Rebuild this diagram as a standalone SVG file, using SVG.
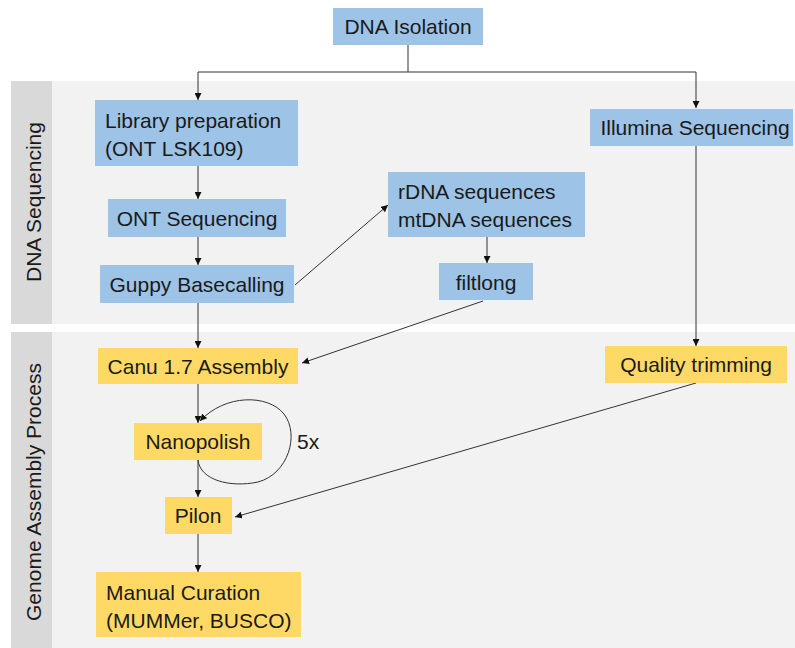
<svg xmlns="http://www.w3.org/2000/svg" width="795" height="648" viewBox="0 0 795 648">
<defs>
<marker id="ah" viewBox="0 0 10 10" refX="10" refY="5" markerWidth="7" markerHeight="7" markerUnits="userSpaceOnUse" orient="auto">
<path d="M0,0 L10,5 L0,10 z" fill="#111"/>
</marker>
<style>
.band{fill:#f2f2f2}
.lab{fill:#d9d9d9}
.blue{fill:#9dc3e6}
.yel{fill:#ffd966}
text{font-family:"Liberation Sans",Arial,sans-serif;font-size:21px;fill:#1a1a1a}
.c{text-anchor:middle}
.con{fill:none;stroke:#333;stroke-width:1}
.arr{marker-end:url(#ah)}
</style>
</defs>
<rect width="795" height="648" fill="#ffffff"/>
<g id="band-sequencing">
<rect class="band" x="11" y="81" width="784" height="243"/>
<rect class="lab" x="11" y="81" width="41" height="243"/>
<text class="c" transform="translate(41,202) rotate(-90)">DNA Sequencing</text>
</g>
<g id="band-assembly">
<rect class="band" x="11" y="332" width="784" height="316"/>
<rect class="lab" x="11" y="332" width="41" height="316"/>
<text class="c" transform="translate(41,492) rotate(-90)">Genome Assembly Process</text>
</g>
<g id="connectors">
<path class="con" d="M408,45 V72"/>
<path class="con arr" d="M408,72 H198 V100"/>
<path class="con arr" d="M408,72 H696 V108"/>
<path class="con arr" d="M198,166 V199"/>
<path class="con arr" d="M198,237 V265"/>
<path class="con arr" d="M295,285 L388,205"/>
<path class="con arr" d="M487,237 V263"/>
<path class="con arr" d="M198,303 V348"/>
<path class="con arr" d="M483,301 L302,363"/>
<path class="con arr" d="M696,146 V346"/>
<path class="con arr" d="M198,384 V423"/>
<path class="con arr" d="M198,460 C200,480 230,488 258,482 C288,474 300,435 284,414 C268,394 225,394 200,421"/>
<path class="con arr" d="M198,460 V497"/>
<path class="con arr" d="M696,383 L235,517"/>
<path class="con arr" d="M198,534 V572"/>
</g>
<g id="dna-isolation">
<rect class="blue" x="333" y="8" width="150" height="37"/>
<text class="c" x="408" y="34">DNA Isolation</text>
</g>
<g id="library-preparation">
<rect class="blue" x="95" y="100" width="203" height="66"/>
<text x="105" y="128">Library preparation</text>
<text x="105" y="156">(ONT LSK109)</text>
</g>
<g id="ont-sequencing">
<rect class="blue" x="108" y="199" width="178" height="38"/>
<text class="c" x="197" y="226">ONT Sequencing</text>
</g>
<g id="guppy-basecalling">
<rect class="blue" x="100" y="265" width="194" height="38"/>
<text class="c" x="197" y="292">Guppy Basecalling</text>
</g>
<g id="rdna-mtdna">
<rect class="blue" x="388" y="172" width="197" height="65"/>
<text x="398" y="199">rDNA sequences</text>
<text x="398" y="227">mtDNA sequences</text>
</g>
<g id="filtlong">
<rect class="blue" x="439" y="263" width="94" height="37"/>
<text class="c" x="486" y="290">filtlong</text>
</g>
<g id="illumina-sequencing">
<rect class="blue" x="590" y="109" width="203" height="37"/>
<text class="c" x="695" y="135">Illumina Sequencing</text>
</g>
<g id="canu-assembly">
<rect class="yel" x="98" y="348" width="200" height="36"/>
<text class="c" x="198" y="374">Canu 1.7 Assembly</text>
</g>
<g id="quality-trimming">
<rect class="yel" x="605" y="346" width="182" height="37"/>
<text class="c" x="696" y="372">Quality trimming</text>
</g>
<g id="nanopolish">
<rect class="yel" x="134" y="423" width="128" height="37"/>
<text class="c" x="198" y="449">Nanopolish</text>
</g>
<text x="297" y="449">5x</text>
<g id="pilon">
<rect class="yel" x="165" y="497" width="67" height="37"/>
<text class="c" x="198" y="523">Pilon</text>
</g>
<g id="manual-curation">
<rect class="yel" x="96" y="572" width="205" height="65"/>
<text x="106" y="600">Manual Curation</text>
<text x="106" y="628">(MUMMer, BUSCO)</text>
</g>
</svg>
